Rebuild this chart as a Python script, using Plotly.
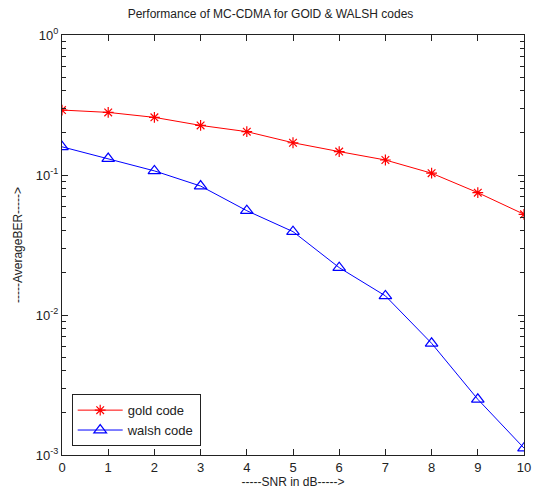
import plotly.graph_objects as go

snr_db = [0, 1, 2, 3, 4, 5, 6, 7, 8, 9, 10]
gold_ber = [0.291, 0.280, 0.258, 0.226, 0.204, 0.170, 0.147, 0.128, 0.103, 0.0748, 0.0524]
walsh_ber = [0.159, 0.131, 0.107, 0.0834, 0.0556, 0.0394, 0.0218, 0.0137, 0.00628, 0.0025, 0.00112]

y_tick_vals = [1e-3, 1e-2, 1e-1, 1e0]
y_tick_text = ["10<sup>-3</sup>", "10<sup>-2</sup>", "10<sup>-1</sup>", "10<sup>0</sup>"]
# minor ticks at 2..9 within each decade
y_minor_vals = [m * 10.0 ** e for e in (-3, -2, -1) for m in range(2, 10)]

font_family = "Liberation Sans, Arial, sans-serif"
ink = "#222222"

fig = go.Figure()
fig.add_trace(go.Scatter(
    x=snr_db, y=gold_ber, name="gold code", mode="lines+markers",
    line=dict(color="#ff0000", width=1),
    marker=dict(symbol="asterisk-open", size=9, color="#ff0000",
                line=dict(color="#ff0000", width=1.2)),
))
fig.add_trace(go.Scatter(
    x=snr_db, y=walsh_ber, name="walsh code", mode="lines+markers",
    line=dict(color="#0000ff", width=1),
    marker=dict(symbol="triangle-up-open", size=11, color="#0000ff",
                line=dict(color="#0000ff", width=1.2)),
))

fig.update_layout(
    width=541, height=497,
    margin=dict(l=62, r=10, t=35, b=42),
    paper_bgcolor="white", plot_bgcolor="white",
    font=dict(family=font_family, size=13, color=ink),
    title=dict(text="Performance of MC-CDMA for GOlD & WALSH codes",
               x=0.5, xanchor="center", y=0.972, yanchor="middle",
               font=dict(size=12, color=ink)),
    legend=dict(x=0.021, y=0.021, xanchor="left", yanchor="bottom",
                bgcolor="white", bordercolor=ink, borderwidth=1,
                font=dict(size=13), tracegroupgap=0, itemwidth=45),
    showlegend=True,
)

fig.update_xaxes(
    range=[0, 10], tickmode="array", tickvals=snr_db,
    ticks="inside", ticklen=6, tickwidth=1.3, tickcolor=ink,
    showline=True, linecolor=ink, linewidth=1, mirror="allticks",
    showgrid=False, zeroline=False,
    title=dict(text="-----SNR in dB----->", standoff=4, font=dict(size=12)),
)
fig.update_yaxes(
    type="log", range=[-3, 0], tickmode="array", tickvals=y_tick_vals,
    ticktext=y_tick_text,
    ticks="inside", ticklen=6, tickwidth=1.3, tickcolor=ink,
    minor=dict(ticks="inside", ticklen=4, tickwidth=1.2, tickmode="array",
               tickvals=y_minor_vals, tickcolor=ink, showgrid=False),
    showline=True, linecolor=ink, linewidth=1, mirror="allticks",
    showgrid=False, zeroline=False,
    title=dict(text="-----AverageBER----->", standoff=10, font=dict(size=12)),
)

fig.write_html("out.html")
